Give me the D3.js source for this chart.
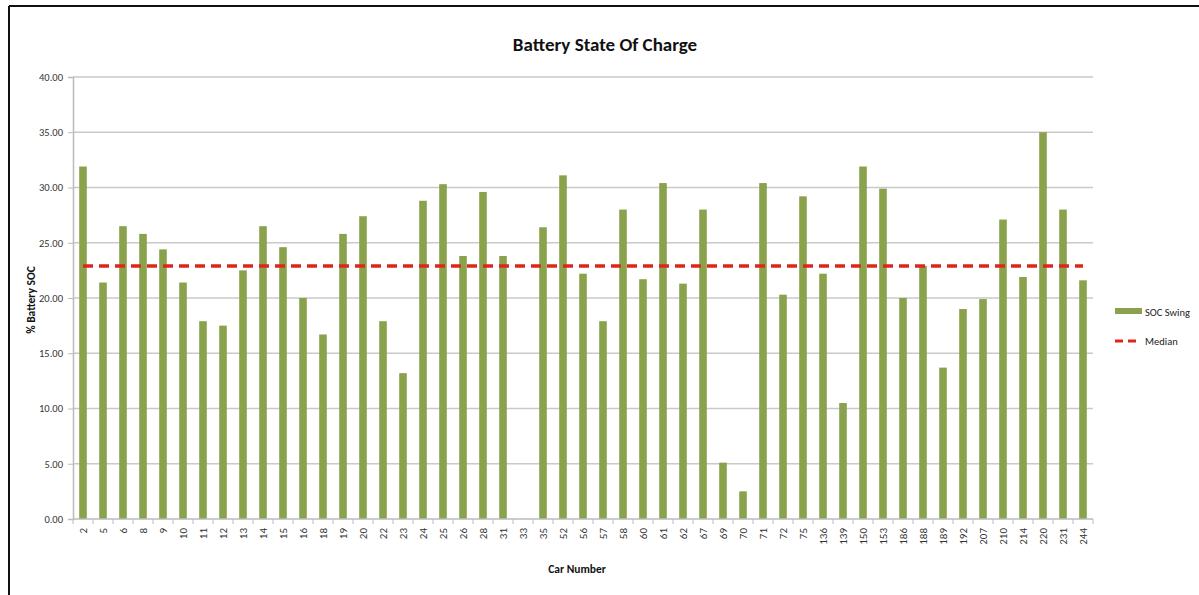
<!DOCTYPE html>
<html>
<head>
<meta charset="utf-8">
<script src="https://cdn.jsdelivr.net/npm/d3@7"></script>
<style>
  body { margin: 0; background: #fff; }
  svg { display: block; font-family: Carlito, Lato, "Noto Sans", sans-serif; }
</style>
</head>
<body>
<div id="chart"></div>
<script>
// Car numbers along the x axis
const cars = ["2","5","6","8","9","10","11","12","13","14","15","16","18","19","20","22","23","24","25",
  "26","28","31","33","35","52","56","57","58","60","61","62","67","69","70","71","72","75","136","139",
  "150","153","186","188","189","192","207","210","214","220","231","244"];

// SOC swing per car
const socSwing = [31.9,21.4,26.5,25.8,24.4,21.4,17.9,17.5,22.5,26.5,24.6,20.0,16.7,25.8,27.4,17.9,13.2,28.8,30.3,
  23.8,29.6,23.8,0,26.4,31.1,22.2,17.9,28.0,21.7,30.4,21.3,28.0,5.1,2.5,30.4,20.3,29.2,22.2,10.5,
  31.9,29.9,20.0,22.9,13.7,19.0,19.9,27.1,21.9,35.0,28.0,21.6];

const median = 22.9;
const yTicks = [0, 5, 10, 15, 20, 25, 30, 35, 40];

const W = 1199, H = 595;
const margin = { top: 77, right: 106, bottom: 76, left: 73 };
const width = W - margin.left - margin.right;
const height = H - margin.top - margin.bottom;

const svgRoot = d3.select("#chart").append("svg").attr("width", W).attr("height", H);

// frame lines of the screenshot
svgRoot.append("line").attr("x1", 9).attr("x2", 9).attr("y1", 6).attr("y2", H).attr("stroke", "#111").attr("stroke-width", 2);
svgRoot.append("line").attr("x1", 9).attr("x2", W).attr("y1", 6).attr("y2", 6).attr("stroke", "#111").attr("stroke-width", 2);

const svg = svgRoot.append("g").attr("transform", `translate(${margin.left},${margin.top})`);

const x = d3.scaleBand().domain(cars).range([0, width]).paddingInner(0.62).paddingOuter(0.31);
const y = d3.scaleLinear().domain([0, 40]).range([height, 0]);

// gridlines
svg.append("g")
  .selectAll("line")
  .data(yTicks.slice(1))
  .enter()
  .append("line")
  .attr("x1", 0)
  .attr("x2", width)
  .attr("y1", (d) => y(d))
  .attr("y2", (d) => y(d))
  .attr("stroke", "#c9c9c9")
  .attr("stroke-width", 1.5);

// y axis
const yAxis = d3.axisLeft(y).tickValues(yTicks).tickFormat(d3.format(".2f")).tickSize(5).tickPadding(5);
const yAxisG = svg.append("g").call(yAxis);
yAxisG.attr("font-family", null);
yAxisG.select(".domain").attr("stroke", "#bbb").attr("stroke-width", 1.5);
yAxisG.selectAll(".tick line").attr("stroke", "#bbb");
yAxisG.selectAll("text").attr("font-size", 10.5).attr("fill", "#333");

// bars
svg.append("g")
  .selectAll("rect")
  .data(cars)
  .enter()
  .append("rect")
  .attr("x", (d) => x(d))
  .attr("width", x.bandwidth())
  .attr("y", (d, i) => y(socSwing[i]))
  .attr("height", (d, i) => height - y(socSwing[i]))
  .attr("fill", "#8aa24c");

// x axis with ticks between categories
const xAxisG = svg.append("g").attr("transform", `translate(0,${height})`);
xAxisG.append("line").attr("x1", 0).attr("x2", width).attr("stroke", "#bbb").attr("stroke-width", 1.5);
xAxisG.selectAll(".sep")
  .data(d3.range(cars.length + 1))
  .enter()
  .append("line")
  .attr("x1", (i) => i * width / cars.length)
  .attr("x2", (i) => i * width / cars.length)
  .attr("y1", 0)
  .attr("y2", 5)
  .attr("stroke", "#bbb");
xAxisG.selectAll("text")
  .data(cars)
  .enter()
  .append("text")
  .attr("transform", (d) => `translate(${x(d) + x.bandwidth() / 2 + 4},9) rotate(-90)`)
  .attr("text-anchor", "end")
  .attr("font-size", 11)
  .attr("fill", "#333")
  .text((d) => d);

// median line
const first = cars[0], last = cars[cars.length - 1];
svg.append("line")
  .attr("x1", x(first) + x.bandwidth() / 2)
  .attr("x2", x(last) + x.bandwidth() / 2)
  .attr("y1", y(median))
  .attr("y2", y(median))
  .attr("stroke", "#e0261b")
  .attr("stroke-width", 3.5)
  .attr("stroke-dasharray", "10,6");

// titles
svgRoot.append("text")
  .attr("x", 605).attr("y", 51)
  .attr("text-anchor", "middle")
  .attr("font-size", 19).attr("font-weight", "bold").attr("fill", "#111")
  .text("Battery State Of Charge");

svgRoot.append("text")
  .attr("x", 577).attr("y", 573)
  .attr("text-anchor", "middle")
  .attr("font-size", 11.5).attr("font-weight", "bold").attr("fill", "#111")
  .text("Car Number");

svgRoot.append("text")
  .attr("transform", "translate(35,300) rotate(-90)")
  .attr("text-anchor", "middle")
  .attr("font-size", 11.5).attr("font-weight", "bold").attr("fill", "#111")
  .text("% Battery SOC");

// legend
const legend = svgRoot.append("g").attr("transform", "translate(1115,0)");
legend.append("rect").attr("x", 0).attr("y", 308).attr("width", 27).attr("height", 6).attr("fill", "#8aa24c");
legend.append("text").attr("x", 30).attr("y", 316).attr("font-size", 10.5).attr("fill", "#222").text("SOC Swing");
legend.append("line").attr("x1", 0).attr("x2", 26).attr("y1", 341).attr("y2", 341)
  .attr("stroke", "#e0261b").attr("stroke-width", 3).attr("stroke-dasharray", "8,5");
legend.append("text").attr("x", 30).attr("y", 345).attr("font-size", 10.5).attr("fill", "#222").text("Median");
</script>
</body>
</html>
